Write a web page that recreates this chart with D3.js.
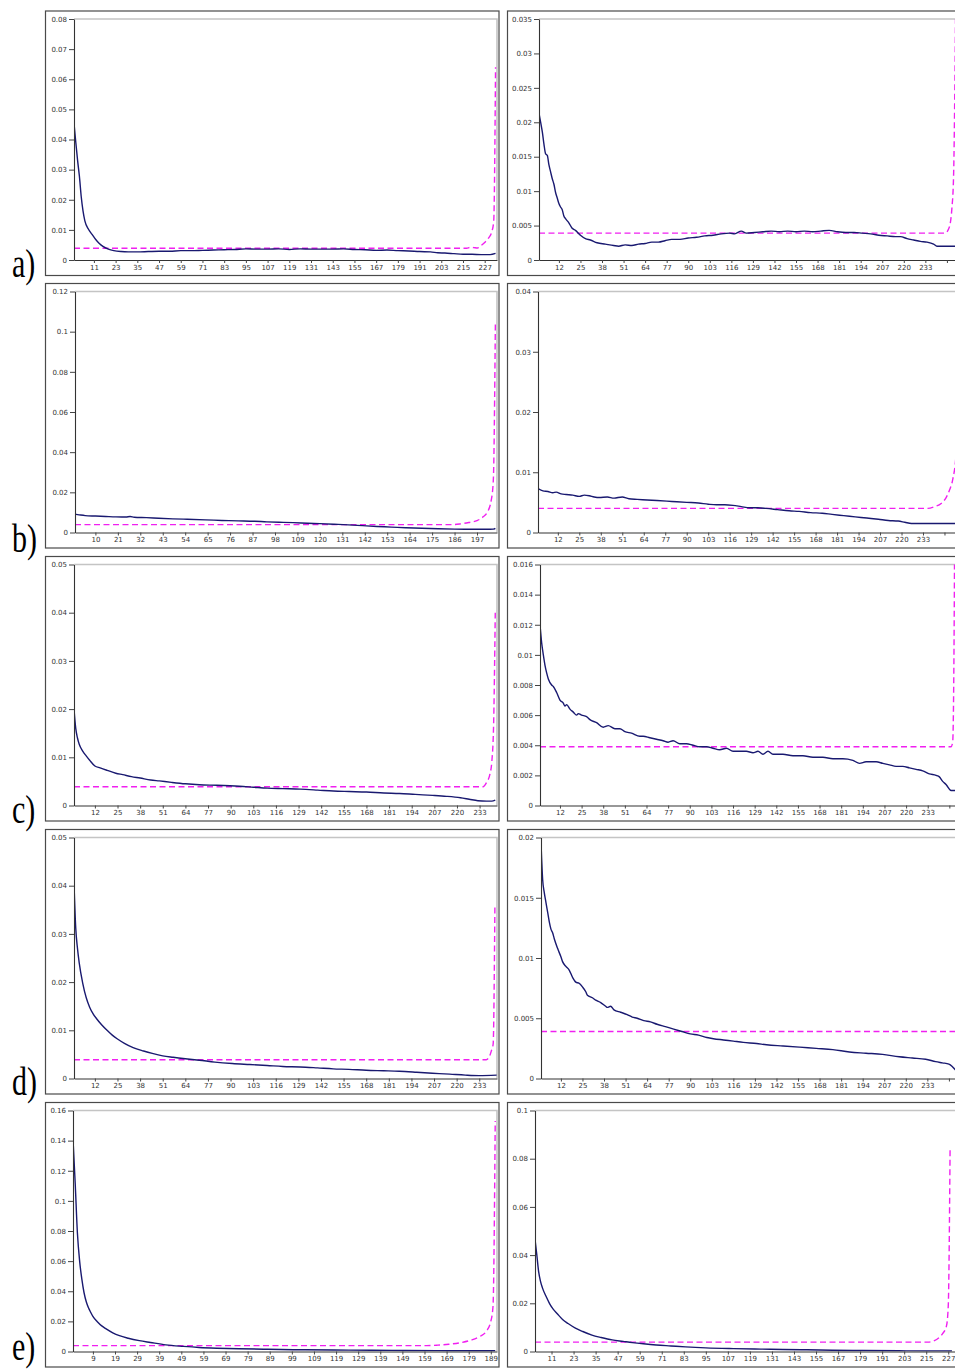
<!DOCTYPE html>
<html><head><meta charset="utf-8">
<script src="https://cdn.jsdelivr.net/npm/d3@7"></script>
<style>body{margin:0;background:#fff}svg{display:block}</style>
</head><body>
<svg id="chart" width="955" height="1369"></svg>
<script>
// ---------- tick labels ----------
const aLeftXTicks = [11,23,35,47,59,71,83,95,107,119,131,143,155,167,179,191,203,215,227];
const bLeftXTicks = [10,21,32,43,54,65,76,87,98,109,120,131,142,153,164,175,186,197];
const cdLeftXTicks = [12,25,38,51,64,77,90,103,116,129,142,155,168,181,194,207,220,233];
const eLeftXTicks = [9,19,29,39,49,59,69,79,89,99,109,119,129,139,149,159,169,179,189];
const rightXTicks = [12,25,38,51,64,77,90,103,116,129,142,155,168,181,194,207,220,233,246];
const rightXLabels = ['12','25','38','51','64','77','90','103','116','129','142','155','168','181','194','207','220','233',''];
const eRightXTicks = [11,23,35,47,59,71,83,95,107,119,131,143,155,167,179,191,203,215,227];

const aLeftYLabels = ['0','0.01','0.02','0.03','0.04','0.05','0.06','0.07','0.08'];
const aRightYLabels = ['0','0.005','0.01','0.015','0.02','0.025','0.03','0.035'];
const bLeftYLabels = ['0','0.02','0.04','0.06','0.08','0.1','0.12'];
const bRightYLabels = ['0','0.01','0.02','0.03','0.04'];
const cLeftYLabels = ['0','0.01','0.02','0.03','0.04','0.05'];
const cRightYLabels = ['0','0.002','0.004','0.006','0.008','0.01','0.012','0.014','0.016'];
const dLeftYLabels = ['0','0.01','0.02','0.03','0.04','0.05'];
const dRightYLabels = ['0','0.005','0.01','0.015','0.02'];
const eLeftYLabels = ['0','0.02','0.04','0.06','0.08','0.1','0.12','0.14','0.16'];
const eRightYLabels = ['0','0.02','0.04','0.06','0.08','0.1'];

const rowLabels = ['a)','b)','c)','d)','e)'];

// ---------- series: [index, value] ----------
const aLeftBlue = [[0,0.0454],[1,0.039],[2,0.033],[3,0.0277],[4,0.021],[5,0.0162],[6,0.013],[8,0.0102],[10,0.0085],[12,0.0068],[14,0.0055],[16,0.0045],[19,0.0036],[22,0.0031],[26,0.0028],[30,0.0027],[35,0.0027],[41,0.0028],[47,0.0029],[53,0.0029],[59,0.0031],[65,0.0031],[71,0.0032],[77,0.0033],[83,0.0034],[89,0.0035],[95,0.0037],[101,0.0036],[107,0.0036],[113,0.0037],[119,0.0035],[125,0.0037],[131,0.0036],[137,0.0036],[143,0.0036],[149,0.0037],[155,0.0035],[161,0.0034],[167,0.0032],[173,0.0033],[179,0.0031],[185,0.003],[191,0.0028],[197,0.0027],[201,0.0024],[205,0.0023],[210,0.0021],[215,0.0019],[220,0.0019],[225,0.0018],[230,0.0018],[233,0.0022]];
const aLeftMagenta = [[0,0.0039],[217,0.0039],[219,0.0042],[221,0.0041],[223,0.004],[225,0.0048],[227,0.0058],[229,0.0072],[231,0.0095],[232,0.013],[233,0.064]];

const aRightBlue = [[0,0.0213],[1,0.02],[2,0.0186],[3,0.0168],[4,0.0154],[5,0.0152],[6,0.0138],[7,0.0128],[8,0.0118],[9,0.011],[10,0.0098],[11,0.009],[12,0.0082],[13,0.0077],[14,0.0073],[15,0.0064],[16,0.006],[18,0.0054],[20,0.0046],[22,0.0043],[25,0.0036],[28,0.0031],[31,0.0029],[35,0.0025],[40,0.0023],[45,0.0021],[48,0.002],[52,0.0022],[56,0.0021],[60,0.0023],[64,0.0024],[68,0.0026],[72,0.0026],[76,0.0028],[80,0.003],[85,0.003],[90,0.0032],[95,0.0033],[100,0.0035],[105,0.0036],[110,0.0038],[115,0.0039],[118,0.0038],[122,0.0042],[125,0.0039],[130,0.004],[135,0.0041],[140,0.0042],[145,0.0041],[150,0.0042],[155,0.0041],[160,0.0042],[165,0.0041],[170,0.0042],[175,0.0043],[180,0.0041],[185,0.004],[190,0.004],[195,0.0039],[200,0.0038],[205,0.0036],[210,0.0035],[215,0.0034],[218,0.0034],[222,0.0031],[226,0.0029],[230,0.0027],[234,0.0026],[238,0.0023],[240,0.002],[245,0.002],[251,0.002],[253,0.0019],[255,0.0019]];
const aRightMagenta = [[0,0.0039],[245,0.0039],[247,0.0045],[248,0.0053],[249,0.0075],[250,0.012],[251,0.03],[252,0.06]];

const bLeftBlue = [[0,0.0091],[2,0.0088],[5,0.0084],[10,0.0082],[15,0.008],[20,0.0078],[25,0.0077],[27,0.008],[29,0.0076],[35,0.0074],[41,0.0071],[48,0.0068],[55,0.0066],[64,0.0063],[72,0.006],[80,0.0058],[88,0.0056],[94,0.0053],[100,0.0051],[107,0.0049],[114,0.0046],[120,0.0044],[127,0.0041],[134,0.0038],[141,0.0034],[148,0.003],[155,0.0027],[162,0.0024],[170,0.0021],[178,0.0019],[186,0.0017],[195,0.0016],[202,0.0016],[205,0.0017],[206,0.0021]];
const bLeftMagenta = [[0,0.0039],[185,0.0039],[189,0.0043],[193,0.005],[197,0.0059],[200,0.0078],[202,0.01],[204,0.0162],[205,0.026],[206,0.104]];

const bRightBlue = [[0,0.0073],[3,0.0069],[6,0.0068],[9,0.0066],[11,0.0067],[14,0.0064],[17,0.0063],[21,0.0062],[25,0.006],[28,0.0062],[31,0.0061],[34,0.0059],[37,0.0058],[42,0.0059],[46,0.0057],[51,0.0059],[55,0.0056],[60,0.0055],[66,0.0054],[72,0.0053],[78,0.0052],[84,0.0051],[90,0.005],[97,0.0049],[103,0.0047],[108,0.0046],[113,0.0046],[118,0.0045],[123,0.0043],[128,0.0041],[133,0.0041],[138,0.004],[145,0.0038],[152,0.0036],[158,0.0035],[165,0.0033],[172,0.0032],[178,0.003],[185,0.0028],[192,0.0026],[199,0.0024],[206,0.0022],[212,0.002],[218,0.0019],[222,0.0017],[226,0.0015],[235,0.0015],[245,0.0015],[255,0.0015]];
const bRightMagenta = [[0,0.004],[236,0.004],[240,0.0043],[244,0.0048],[247,0.0058],[249,0.007],[251,0.0088],[253,0.013],[255,0.03]];

const cLeftBlue = [[0,0.02],[1,0.016],[2,0.014],[3,0.0127],[5,0.0113],[7,0.0103],[9,0.0094],[12,0.0082],[15,0.0078],[19,0.0073],[24,0.0067],[28,0.0064],[33,0.006],[38,0.0057],[44,0.0053],[49,0.0051],[56,0.0048],[64,0.0045],[72,0.0043],[82,0.0042],[95,0.004],[103,0.0038],[111,0.0036],[120,0.0035],[130,0.0034],[140,0.0032],[149,0.003],[158,0.0029],[168,0.0028],[178,0.0026],[187,0.0025],[196,0.0023],[206,0.0021],[214,0.0019],[222,0.0016],[227,0.0013],[232,0.001],[237,0.0009],[240,0.0009],[242,0.0011]];
const cLeftMagenta = [[0,0.0039],[235,0.0039],[237,0.0048],[239,0.0066],[240,0.009],[241,0.016],[242,0.04]];

const cRightBlue = [[0,0.012],[1,0.0108],[2,0.01],[3,0.0093],[4,0.0088],[5,0.0084],[7,0.008],[8,0.0079],[10,0.0075],[12,0.007],[14,0.0068],[15,0.0066],[16,0.0067],[18,0.0064],[20,0.0062],[22,0.006],[23,0.0061],[25,0.006],[28,0.0059],[30,0.0057],[34,0.0055],[38,0.0052],[41,0.0053],[45,0.0051],[48,0.0051],[51,0.0049],[55,0.0048],[60,0.0046],[62,0.0046],[66,0.0045],[70,0.0044],[74,0.0043],[77,0.0042],[80,0.0043],[84,0.0041],[88,0.0041],[92,0.004],[96,0.0039],[100,0.0039],[104,0.0038],[108,0.0037],[112,0.0038],[116,0.0036],[120,0.0036],[124,0.0036],[128,0.0035],[131,0.0036],[134,0.0034],[137,0.0036],[140,0.0034],[146,0.0034],[152,0.0033],[158,0.0033],[164,0.0032],[170,0.0032],[176,0.0031],[182,0.0031],[188,0.003],[192,0.0028],[196,0.0029],[202,0.0029],[206,0.0028],[210,0.0027],[214,0.0026],[218,0.0026],[222,0.0025],[226,0.0024],[230,0.0023],[234,0.0021],[238,0.002],[240,0.0019],[242,0.0016],[244,0.0014],[247,0.001],[250,0.001]];
const cRightMagenta = [[0,0.0039],[247,0.0039],[248,0.0042],[249,0.014],[250,0.05]];

const dLeftBlue = [[0,0.0405],[1,0.0312],[2,0.027],[3,0.024],[5,0.0198],[7,0.0168],[9,0.0148],[11,0.0134],[13,0.0124],[16,0.0111],[19,0.01],[22,0.009],[25,0.0082],[29,0.0073],[34,0.0064],[40,0.0057],[45,0.0052],[51,0.0047],[57,0.0044],[64,0.0041],[72,0.0038],[81,0.0034],[91,0.0031],[101,0.0029],[111,0.0027],[120,0.0025],[130,0.0024],[140,0.0022],[149,0.002],[158,0.0019],[168,0.0017],[178,0.0016],[187,0.0015],[197,0.0013],[206,0.0011],[216,0.0009],[225,0.0007],[233,0.0006],[243,0.0007]];
const dLeftMagenta = [[0,0.0039],[237,0.0039],[239,0.0047],[240,0.0058],[241,0.0072],[242,0.036]];

const dRightBlue = [[0,0.0196],[1,0.0165],[2,0.0154],[3,0.0146],[4,0.0138],[5,0.013],[6,0.0124],[7,0.0121],[8,0.0116],[10,0.0108],[12,0.0101],[13,0.0097],[15,0.0093],[17,0.009],[19,0.0084],[21,0.008],[23,0.0079],[25,0.0076],[27,0.0072],[28,0.0069],[31,0.0067],[33,0.0065],[36,0.0063],[39,0.006],[40,0.0059],[42,0.006],[44,0.0057],[48,0.0055],[52,0.0053],[55,0.0051],[58,0.005],[62,0.0048],[66,0.0047],[70,0.0045],[75,0.0043],[80,0.0041],[85,0.0039],[90,0.0037],[95,0.0036],[100,0.0034],[104,0.0033],[110,0.0032],[116,0.0031],[122,0.003],[130,0.0029],[136,0.0028],[146,0.0027],[156,0.0026],[166,0.0025],[176,0.0024],[186,0.0022],[196,0.0021],[206,0.002],[216,0.0018],[224,0.0017],[232,0.0016],[238,0.0014],[242,0.0013],[246,0.0012],[248,0.001],[250,0.0007],[252,0.0005]];
const dRightMagenta = [[0,0.0039],[251,0.0039],[253,0.008],[255,0.04]];

const eLeftBlue = [[0,0.1411],[1,0.1115],[2,0.0785],[3,0.06],[4,0.048],[5,0.039],[6,0.033],[7,0.029],[8,0.026],[9,0.0233],[11,0.0198],[13,0.017],[15,0.015],[18,0.0124],[21,0.0105],[25,0.0088],[30,0.0072],[35,0.006],[42,0.0044],[50,0.0034],[57,0.0027],[65,0.0022],[75,0.0018],[88,0.0015],[100,0.0012],[118,0.001],[135,0.0008],[150,0.0007],[165,0.0006],[178,0.0005],[191,0.0005]];
const eLeftMagenta = [[0,0.0039],[160,0.0039],[165,0.0042],[170,0.0048],[175,0.0058],[180,0.0075],[184,0.01],[187,0.0135],[189,0.02],[190,0.03],[191,0.153]];

const eRightBlue = [[2,0.0466],[3,0.04],[4,0.033],[5,0.0291],[6,0.0265],[8,0.0229],[10,0.0198],[12,0.0175],[14,0.0158],[17,0.0133],[20,0.0116],[24,0.0097],[28,0.0083],[33,0.0068],[38,0.0058],[44,0.0048],[50,0.0042],[55,0.0037],[61,0.0032],[68,0.0027],[76,0.0023],[84,0.0019],[95,0.0015],[110,0.0012],[125,0.001],[137,0.0008],[150,0.0007],[164,0.0005],[180,0.0004],[200,0.0003],[215,0.0002],[229,0.0002]];
const eRightMagenta = [[2,0.0039],[216,0.0039],[219,0.0044],[222,0.0058],[224,0.0075],[226,0.0105],[227,0.019],[228,0.0848]];

// ---------- panel configuration ----------
const panels = [
  {row:0, side:'L', blue:aLeftBlue,  mag:aLeftMagenta,  xt:aLeftXTicks,  xl:aLeftXTicks.map(String),  yl:aLeftYLabels,  xd:[0,233.8], pl:74},
  {row:0, side:'R', blue:aRightBlue, mag:aRightMagenta, xt:rightXTicks,  xl:rightXLabels,             yl:aRightYLabels, xd:[0,255.1], pl:539},
  {row:1, side:'L', blue:bLeftBlue,  mag:bLeftMagenta,  xt:bLeftXTicks,  xl:bLeftXTicks.map(String),  yl:bLeftYLabels,  xd:[0,206.8], pl:75},
  {row:1, side:'R', blue:bRightBlue, mag:bRightMagenta, xt:rightXTicks,  xl:rightXLabels,             yl:bRightYLabels, xd:[0,256],   pl:538},
  {row:2, side:'L', blue:cLeftBlue,  mag:cLeftMagenta,  xt:cdLeftXTicks, xl:cdLeftXTicks.map(String), yl:cLeftYLabels,  xd:[0,243],   pl:74},
  {row:2, side:'R', blue:cRightBlue, mag:cRightMagenta, xt:rightXTicks,  xl:rightXLabels,             yl:cRightYLabels, xd:[0,254.2], pl:540},
  {row:3, side:'L', blue:dLeftBlue,  mag:dLeftMagenta,  xt:cdLeftXTicks, xl:cdLeftXTicks.map(String), yl:dLeftYLabels,  xd:[0,243.2], pl:74},
  {row:3, side:'R', blue:dRightBlue, mag:dRightMagenta, xt:rightXTicks,  xl:rightXLabels,             yl:dRightYLabels, xd:[0,255.1], pl:541},
  {row:4, side:'L', blue:eLeftBlue,  mag:eLeftMagenta,  xt:eLeftXTicks,  xl:eLeftXTicks.map(String),  yl:eLeftYLabels,  xd:[0,191.8], pl:73},
  {row:4, side:'R', blue:eRightBlue, mag:eRightMagenta, xt:eRightXTicks, xl:eRightXTicks.map(String), yl:eRightYLabels, xd:[2,232.3], pl:535}
];

const rowTops = [11, 283.5, 556.5, 829.5, 1102.5];
const labelBaselines = [276.5, 551.5, 823, 1094.5, 1359.5];

const svg = d3.select('#chart');
const defs = svg.append('defs');

// outer boxes
rowTops.forEach(t => {
  svg.append('rect').attr('x',45.5).attr('y',t).attr('width',453.5).attr('height',264.5)
    .attr('fill','#fff').attr('stroke','#4a4a4a').attr('stroke-width',1.2);
  svg.append('rect').attr('x',507.5).attr('y',t).attr('width',454).attr('height',264.5)
    .attr('fill','#fff').attr('stroke','#4a4a4a').attr('stroke-width',1.2);
});

// row labels
rowLabels.forEach((lab, i) => {
  svg.append('text').attr('transform',`translate(12,${labelBaselines[i]}) scale(1,1.35)`)
    .attr('font-family','"Liberation Serif","Times New Roman",serif')
    .attr('font-size',30).attr('fill','#000').text(lab);
});

const fontFam = '"DejaVu Sans", sans-serif';

panels.forEach((p, k) => {
  const top = rowTops[p.row] + 8;
  const bottom = rowTops[p.row] + 249;
  const left = p.pl;
  const right = p.side === 'L' ? 497 : p.pl + 423;
  const yVals = p.yl.map(Number);
  const x = d3.scaleLinear().domain(p.xd).range([left, right]);
  const y = d3.scaleLinear().domain([0, d3.max(yVals)]).range([bottom, top]);
  const g = svg.append('g');

  // top/right frame
  g.append('path').attr('d',`M${left},${top}H${right}V${bottom}`)
    .attr('fill','none').attr('stroke','#c4c4c4').attr('stroke-width',1.6);

  const cid = 'clip' + k;
  defs.append('clipPath').attr('id',cid).append('rect')
    .attr('x',left).attr('y',top).attr('width',right-left).attr('height',bottom-top);

  const line = d3.line().x(d => x(d[0])).y(d => y(d[1])).curve(d3.curveMonotoneX);

  g.append('path').datum(p.mag).attr('d',line).attr('clip-path',`url(#${cid})`)
    .attr('fill','none').attr('stroke','#f020f0').attr('stroke-width',1.4)
    .attr('stroke-dasharray','6,3.5');
  g.append('path').datum(p.blue).attr('d',line).attr('clip-path',`url(#${cid})`)
    .attr('fill','none').attr('stroke','#191970').attr('stroke-width',1.4)
    .attr('stroke-linejoin','round');

  // axes
  const yAxis = d3.axisLeft(y).tickValues(yVals).tickFormat((d,i) => p.yl[i])
    .tickSizeInner(5).tickSizeOuter(0).tickPadding(2);
  const xAxis = d3.axisBottom(x).tickValues(p.xt).tickFormat((d,i) => p.xl[i])
    .tickSizeInner(3).tickSizeOuter(0).tickPadding(2);

  const ya = g.append('g').attr('transform',`translate(${left},0)`).call(yAxis);
  const xa = g.append('g').attr('transform',`translate(0,${bottom})`).call(xAxis);
  [ya, xa].forEach(a => {
    a.select('.domain').attr('stroke','#333').attr('stroke-width',1.1);
    a.selectAll('.tick line').attr('stroke','#444');
    a.selectAll('.tick text').attr('fill','#333').attr('font-size',7).attr('font-family',fontFam);
  });
});
</script>
</body></html>
